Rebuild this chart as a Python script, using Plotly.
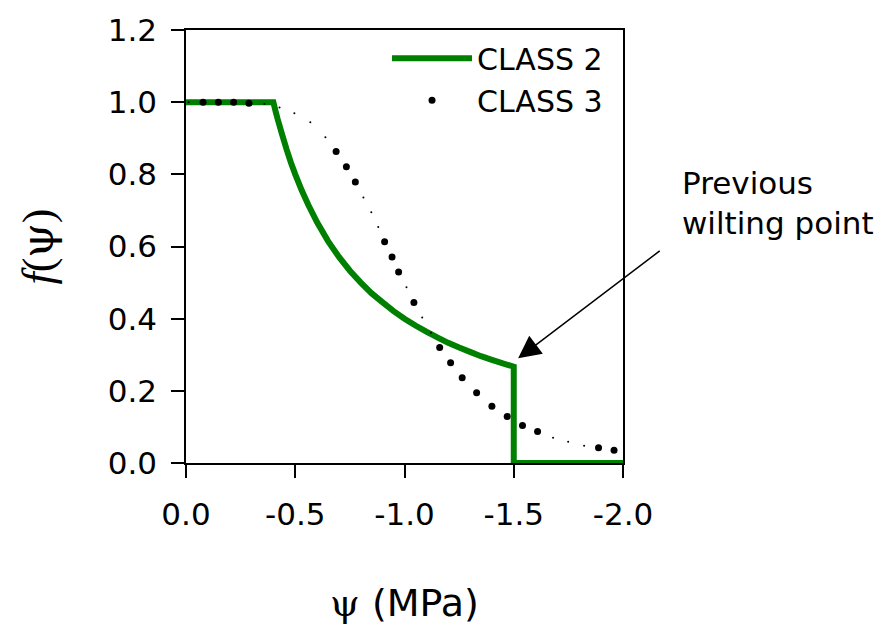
import plotly.graph_objects as go

# ---- data ----
# CLASS 2 (solid green): f(psi) vs psi (MPa)
x2 = [0.0, -0.40, -0.41, -0.42, -0.44, -0.46, -0.48, -0.50, -0.53, -0.56, -0.60,
      -0.65, -0.70, -0.75, -0.80, -0.85, -0.90, -0.95, -1.00, -1.05, -1.10,
      -1.15, -1.20, -1.25, -1.30, -1.35, -1.40, -1.45, -1.50, -1.50, -2.00]
y2 = [1.00, 1.00, 0.975, 0.952, 0.91, 0.87, 0.833, 0.80, 0.755, 0.715, 0.667,
      0.615, 0.571, 0.533, 0.50, 0.47, 0.445, 0.421, 0.40, 0.381, 0.364,
      0.348, 0.333, 0.32, 0.308, 0.296, 0.286, 0.276, 0.267, 0.00, 0.00]

# CLASS 3 (dotted black): dots
x3 = [-0.012, -0.078, -0.148, -0.218, -0.288, -0.359, -0.428, -0.496, -0.569, -0.638,
      -0.687, -0.734, -0.775, -0.812, -0.848, -0.880, -0.909, -0.943, -0.973, -1.009,
      -1.043, -1.081, -1.121, -1.161, -1.211, -1.264, -1.330, -1.400, -1.470, -1.540,
      -1.609, -1.680, -1.749, -1.822, -1.888, -1.959]
y3 = [1.000, 1.000, 1.000, 1.000, 0.997, 0.995, 0.985, 0.969, 0.944, 0.903,
      0.863, 0.821, 0.779, 0.736, 0.695, 0.654, 0.613, 0.571, 0.529, 0.487,
      0.445, 0.403, 0.361, 0.320, 0.278, 0.236, 0.195, 0.157, 0.129, 0.104,
      0.087, 0.070, 0.059, 0.048, 0.042, 0.035]
# dot style pattern of the dotted line (1 = large dot, 0 = tiny dot)
dot_big = [0, 1, 1, 1, 1, 0, 0, 0, 0, 0,
           1, 1, 1, 0, 0, 0, 1, 1, 1, 0,
           1, 0, 0, 1, 1, 1, 1, 1, 1, 1,
           1, 0, 0, 0, 1, 1]

x_ticks = [0.0, -0.5, -1.0, -1.5, -2.0]
x_tick_labels = ["0.0", "-0.5", "-1.0", "-1.5", "-2.0"]
y_ticks = [0.0, 0.2, 0.4, 0.6, 0.8, 1.0, 1.2]
y_tick_labels = ["0.0", "0.2", "0.4", "0.6", "0.8", "1.0", "1.2"]

names = ["CLASS 2", "CLASS 3"]

FONT = "DejaVu Sans"
GREEN = "#008000"

fig = go.Figure()

fig.add_trace(go.Scatter(
    x=x2, y=y2, mode="lines", name=names[0],
    line=dict(color=GREEN, width=6, simplify=False),
))

xb = [x for x, b in zip(x3, dot_big) if b]
yb = [y for y, b in zip(y3, dot_big) if b]
xs = [x for x, b in zip(x3, dot_big) if not b]
ys = [y for y, b in zip(y3, dot_big) if not b]

fig.add_trace(go.Scatter(
    x=xb, y=yb, mode="markers", name=names[1],
    marker=dict(color="black", size=7, line=dict(width=0)),
))
fig.add_trace(go.Scatter(
    x=xs, y=ys, mode="markers", name=names[1], showlegend=False,
    marker=dict(color="black", size=2, line=dict(width=0)),
))

axis_common = dict(
    showline=True, linecolor="black", linewidth=1.5, mirror=True,
    ticks="outside", ticklen=13, tickwidth=1.5, tickcolor="black",
    showgrid=False, zeroline=False,
    tickfont=dict(family=FONT, size=31, color="black"),
)

PSI = "<span style='font-family:DejaVu Serif'>ψ</span>"

fig.update_xaxes(
    range=[0.0, -2.0], tickmode="array", tickvals=x_ticks, ticktext=x_tick_labels,
    title=dict(text=PSI + " (MPa)",
               font=dict(family=FONT, size=38, color="black"), standoff=58),
    ticklabelstandoff=10,
    **axis_common,
)
fig.update_yaxes(
    range=[0.0, 1.2], tickmode="array", tickvals=y_ticks, ticktext=y_tick_labels,
    title=dict(text="<span style='font-family:Liberation Serif'><i>f</i></span>(" + PSI + ")",
               font=dict(family="Liberation Serif", size=44, color="black"), standoff=40),
    ticklabelstandoff=8,
    **axis_common,
)

# arrow pointing at the previous wilting point
fig.add_annotation(
    x=-1.52, y=0.29, xref="x", yref="y",
    ax=-2.175, ay=0.591, axref="x", ayref="y",
    text="", showarrow=True, arrowhead=2, arrowsize=3, arrowwidth=1.5,
    arrowcolor="black",
)
fig.add_annotation(
    x=1.13, y=0.600, xref="paper", yref="paper", xanchor="left", yanchor="middle",
    align="left",
    text="Previous<br>wilting point", showarrow=False,
    font=dict(family=FONT, size=31, color="black"),
)

fig.update_layout(
    width=892, height=630,
    margin=dict(l=186, r=269, t=25, b=167),
    plot_bgcolor="white", paper_bgcolor="white",
    showlegend=True,
    legend=dict(
        x=0.46, y=0.995, xanchor="left", yanchor="top",
        bgcolor="rgba(0,0,0,0)", borderwidth=0,
        font=dict(family=FONT, size=30, color="black"),
        itemwidth=80, tracegroupgap=0,
    ),
)

fig.write_html("out.html")
